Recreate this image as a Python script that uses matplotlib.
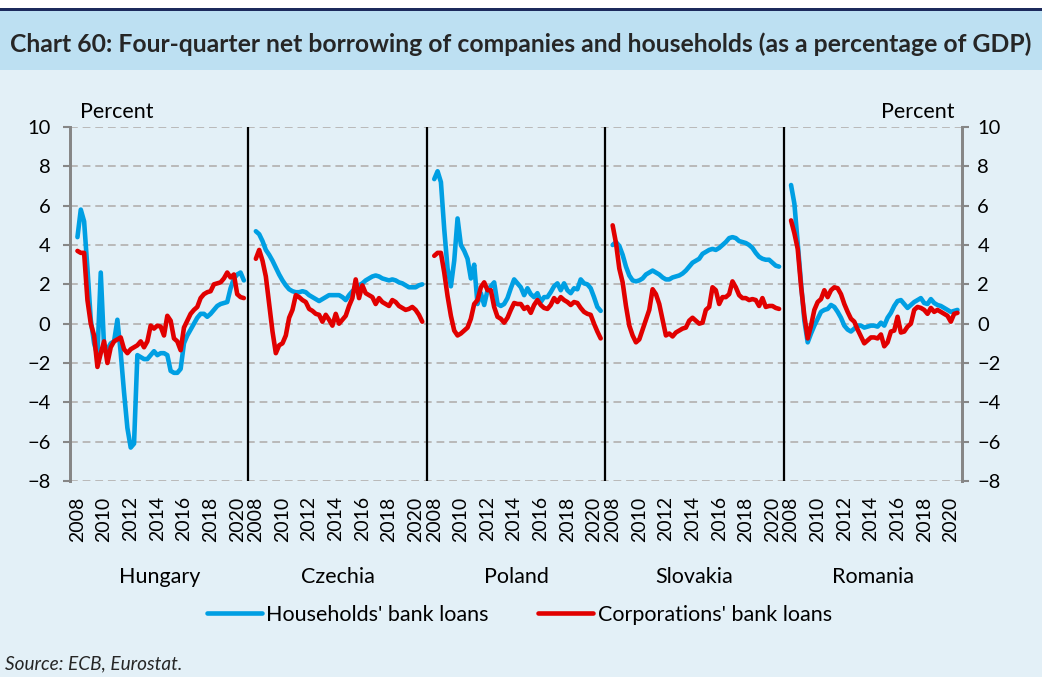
import matplotlib.pyplot as plt
import matplotlib.transforms as mtransforms
from matplotlib.patches import Rectangle
import numpy as np

plt.rcParams['font.family'] = ['Lato', 'DejaVu Sans']

countries = ['Hungary', 'Czechia', 'Poland', 'Slovakia', 'Romania']
tick_years = [2008, 2010, 2012, 2014, 2016, 2018, 2020]

# quarterly values, 2008 Q1 - 2020 Q3, percent of GDP
hu_households = [4.4, 5.8, 5.2, 2.8, 0.2, -1.0, -1.6, 2.6, -1.2, -1.3,
                 -1.0, -0.9, 0.2, -1.5, -3.5, -5.3, -6.3, -6.1, -1.6, -1.7,
                 -1.8, -1.8, -1.6, -1.4, -1.6, -1.5, -1.5, -1.6, -2.4, -2.5,
                 -2.5, -2.3, -1.0, -0.6, -0.3, 0.0, 0.3, 0.5, 0.5, 0.35,
                 0.5, 0.7, 0.9, 1.0, 1.05, 1.1, 1.8, 2.3, 2.5, 2.6, 2.2]
hu_corporations = [3.7, 3.6, 3.6, 1.2, 0.0, -0.6, -2.2, -1.5, -0.9, -2.0,
                   -1.2, -0.9, -0.8, -0.7, -1.3, -1.5, -1.3, -1.2, -1.1, -0.9,
                   -1.2, -0.9, -0.1, -0.25, -0.1, -0.15, -0.6, 0.4, 0.15, -0.75,
                   -0.9, -1.35, -0.2, 0.15, 0.5, 0.7, 0.85, 1.3, 1.5, 1.6,
                   1.65, 2.0, 2.05, 2.1, 2.3, 2.6, 2.35, 2.5, 1.5, 1.35, 1.3]

cz_households = [4.7, 4.55, 4.2, 3.75, 3.5, 3.2, 2.85, 2.5, 2.2, 1.95,
                 1.75, 1.65, 1.6, 1.6, 1.65, 1.6, 1.45, 1.35, 1.25, 1.15,
                 1.25, 1.35, 1.45, 1.45, 1.45, 1.45, 1.35, 1.2, 1.45, 1.65,
                 1.8, 1.95, 2.05, 2.2, 2.3, 2.4, 2.45, 2.4, 2.3, 2.25,
                 2.2, 2.25, 2.2, 2.1, 2.05, 1.95, 1.85, 1.85, 1.85, 1.95, 2.0]
cz_corporations = [3.3, 3.75, 3.2, 2.4, 1.0, -0.4, -1.5, -1.1, -1.0, -0.6,
                   0.3, 0.7, 1.45, 1.35, 1.2, 1.1, 0.75, 0.65, 0.5, 0.45,
                   0.1, 0.45, 0.2, -0.1, 0.5, 0.0, 0.2, 0.4, 0.9, 1.3,
                   2.25, 1.3, 1.95, 1.55, 1.45, 1.35, 1.0, 1.3, 1.1, 1.0,
                   0.9, 1.2, 1.1, 0.9, 0.8, 0.7, 0.75, 0.85, 0.7, 0.45, 0.1]

pl_households = [7.35, 7.75, 7.2, 4.8, 2.8, 1.9, 3.2, 5.35, 4.0, 3.7,
                 3.3, 2.3, 3.0, 1.0, 1.55, 0.95, 1.7, 1.9, 2.1, 1.0,
                 0.9, 1.0, 1.3, 1.8, 2.25, 2.05, 1.85, 1.45, 1.8, 1.5,
                 1.35, 1.55, 1.1, 1.35, 1.35, 1.6, 1.9, 2.05, 1.7, 2.05,
                 1.7, 1.55, 1.8, 1.75, 2.25, 2.05, 2.0, 1.8, 1.35, 0.85, 0.65]
pl_corporations = [3.45, 3.6, 3.6, 2.6, 1.4, 0.4, -0.35, -0.6, -0.5, -0.35,
                   -0.2, 0.25, 1.0, 1.2, 1.85, 2.1, 1.7, 1.7, 0.85, 0.35,
                   0.25, 0.05, 0.3, 0.7, 1.05, 1.0, 1.0, 0.75, 0.85, 0.55,
                   0.95, 1.2, 0.95, 0.8, 0.75, 0.95, 1.3, 1.1, 1.35, 1.2,
                   1.1, 0.95, 1.1, 1.05, 0.8, 0.6, 0.5, 0.45, 0.0, -0.4, -0.75]

sk_households = [4.0, 4.15, 3.95, 3.5, 2.9, 2.45, 2.2, 2.15, 2.2, 2.3,
                 2.5, 2.6, 2.7, 2.6, 2.5, 2.35, 2.25, 2.25, 2.35, 2.4,
                 2.45, 2.55, 2.7, 2.9, 3.1, 3.2, 3.3, 3.55, 3.65, 3.75,
                 3.8, 3.75, 3.85, 4.0, 4.15, 4.35, 4.4, 4.35, 4.2, 4.15,
                 4.1, 4.0, 3.85, 3.6, 3.4, 3.3, 3.25, 3.25, 3.1, 2.95, 2.9]
sk_corporations = [5.0, 4.1, 2.8, 2.1, 0.9, -0.1, -0.6, -0.95, -0.8, -0.3,
                   0.2, 0.7, 1.75, 1.5, 1.0, 0.2, -0.6, -0.5, -0.65, -0.45,
                   -0.35, -0.25, -0.2, 0.15, 0.3, 0.15, 0.0, 0.05, 0.7, 0.85,
                   1.85, 1.7, 1.0, 1.35, 1.35, 1.5, 2.15, 1.85, 1.45, 1.3,
                   1.3, 1.2, 1.25, 1.2, 0.9, 1.3, 0.85, 0.9, 0.9, 0.8, 0.75]

ro_households = [7.05, 6.1, 4.1, 2.05, 0.15, -0.95, -0.5, -0.1, 0.25, 0.6,
                 0.7, 0.75, 0.95, 0.85, 0.6, 0.3, -0.1, -0.3, -0.4, -0.25,
                 -0.1, -0.1, -0.2, -0.15, -0.1, -0.1, -0.15, 0.05, -0.1, 0.3,
                 0.55, 0.9, 1.15, 1.2, 1.0, 0.8, 0.95, 1.1, 1.2, 1.3,
                 1.05, 1.0, 1.25, 1.05, 0.95, 0.9, 0.8, 0.7, 0.6, 0.65, 0.7]
ro_corporations = [5.25, 4.6, 3.8, 1.9, 0.4, -0.75, -0.1, 0.7, 1.1, 1.25,
                   1.7, 1.35, 1.7, 1.85, 1.8, 1.5, 1.0, 0.6, 0.25, 0.1,
                   -0.3, -0.65, -1.0, -0.85, -0.7, -0.7, -0.75, -0.55, -1.15, -0.95,
                   -0.4, -0.35, 0.35, -0.45, -0.4, -0.15, 0.0, 0.7, 0.85, 0.8,
                   0.7, 0.5, 0.8, 0.6, 0.7, 0.6, 0.5, 0.4, 0.1, 0.5, 0.55]

households = [hu_households, cz_households, pl_households, sk_households, ro_households]
corporations = [hu_corporations, cz_corporations, pl_corporations, sk_corporations, ro_corporations]

blue = '#009fe3'
red = '#e10000'
bg = '#e3f0f7'
grey = '#868686'

fig = plt.figure(figsize=(10.42, 6.77), dpi=100)
fig.patch.set_facecolor(bg)

# header band and the dark rule above it
fig.patches.append(Rectangle((0, 1 - 11 / 677), 1, 11 / 677, transform=fig.transFigure,
                             facecolor='white', edgecolor='none', zorder=0))
fig.patches.append(Rectangle((0, 1 - 11 / 677), 1, 3 / 677, transform=fig.transFigure,
                             facecolor='#1c2a5c', edgecolor='none', zorder=1))
fig.patches.append(Rectangle((0, 1 - 70 / 677), 1, 59 / 677, transform=fig.transFigure,
                             facecolor='#bde0f2', edgecolor='none', zorder=0))
fig.text(0.5, 1 - 44 / 677, 'Chart 60: Four-quarter net borrowing of companies and households (as a percentage of GDP)',
         ha='center', va='center', fontsize=17.8, fontweight='bold', color='#262626')

ax = fig.add_axes([70 / 1042, 1 - 481 / 677, 892 / 1042, 354 / 677])
ax.set_facecolor(bg)

# each country gets its own block of years along one shared x axis
panel = 13.4
start = 0.56


def xpos(k, year):
    return k * panel + start + (year - 2008)


for k in range(len(countries)):
    years = 2008 + np.arange(len(households[k])) / 4
    ax.plot(xpos(k, years), households[k], color=blue, lw=3.3, solid_capstyle='round',
            label="Households' bank loans" if k == 0 else None, zorder=3)
    ax.plot(xpos(k, years), corporations[k], color=red, lw=3.3, solid_capstyle='round',
            label="Corporations' bank loans" if k == 0 else None, zorder=4)
    if k > 0:
        ax.axvline(k * panel, color='black', lw=1.6, zorder=5)

ax.set_xlim(0, panel * len(countries))
ax.set_ylim(-8, 10)
ax.set_yticks(np.arange(-8, 11, 2))
ax.yaxis.grid(True, ls=(0, (4, 2.5)), color='#b9b9b9', lw=1.4)
ax.set_axisbelow(True)

xt, xl = [], []
for k in range(len(countries)):
    for yr in tick_years:
        xt.append(xpos(k, yr))
        xl.append(str(yr))
ax.set_xticks(xt)
ax.set_xticklabels(xl, rotation=90, fontsize=14)
ax.tick_params(axis='x', length=0, pad=11)
ax.tick_params(axis='y', direction='out', length=5, width=1.5, color=grey,
               labelsize=14.5, pad=9)

ax2 = ax.twinx()
ax2.set_ylim(ax.get_ylim())
ax2.set_yticks(ax.get_yticks())
ax2.tick_params(axis='y', direction='out', length=5, width=1.5, color=grey,
                labelsize=14.5, pad=6)

for a in (ax, ax2):
    for s in ['top', 'bottom']:
        a.spines[s].set_visible(False)
    for s in ['left', 'right']:
        a.spines[s].set_color(grey)
        a.spines[s].set_linewidth(2)

trans = mtransforms.blended_transform_factory(ax.transData, ax.transAxes)
for k, name in enumerate(countries):
    ax.text(k * panel + panel / 2, -0.271, name, transform=trans,
            ha='center', va='center', fontsize=15.5)

ax.text(0.011, 1.042, 'Percent', transform=ax.transAxes, ha='left', va='center', fontsize=15.5)
ax.text(0.992, 1.042, 'Percent', transform=ax.transAxes, ha='right', va='center', fontsize=15.5)

fig.legend(loc='center', bbox_to_anchor=(0.4985, 1 - 615 / 677), ncol=2, frameon=False,
           fontsize=15.5, handlelength=2.55, handletextpad=0.2, columnspacing=2.3)

fig.text(5 / 1042, 1 - 664 / 677, 'Source: ECB, Eurostat.', ha='left', va='center',
         fontsize=13.7, style='italic', color='#262626')

plt.savefig('out.png', dpi=100, facecolor=fig.get_facecolor())
